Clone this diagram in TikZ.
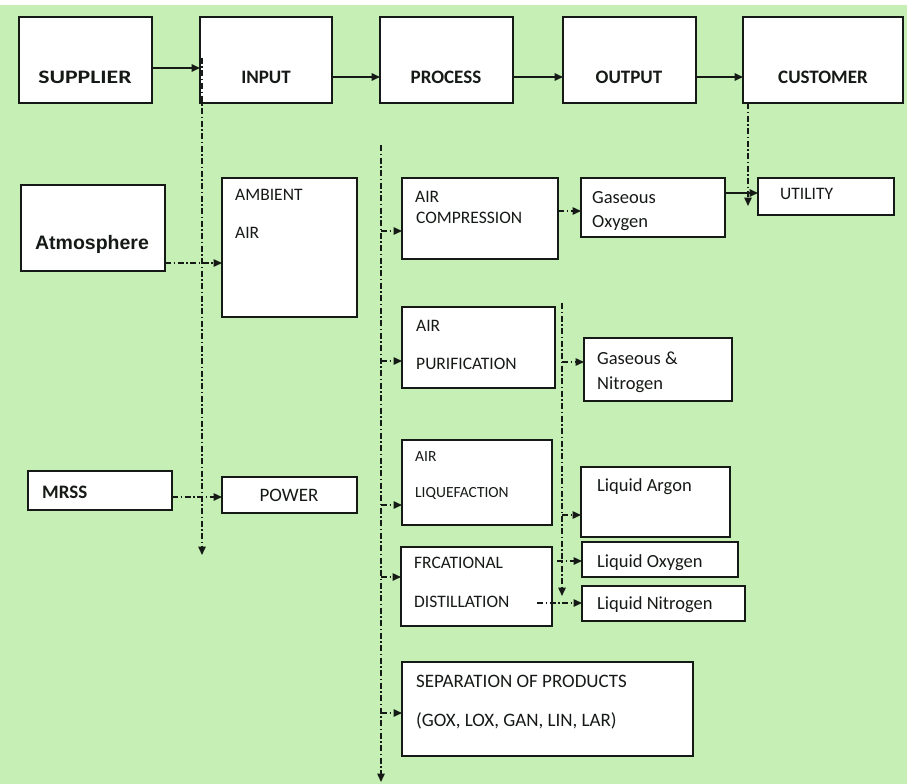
\documentclass[tikz,border=0pt]{standalone}
\usepackage{fontspec}
\usepackage{graphicx}
\setmainfont{Carlito}
\newfontfamily\arialf{Liberation Sans}
\usetikzlibrary{arrows.meta}
\definecolor{bg}{RGB}{198,239,181}
\definecolor{ink}{RGB}{22,26,22}
\begin{document}
\begin{tikzpicture}[x=1pt,y=-1pt,
  box/.style={draw=ink, fill=white, line width=1.7pt, rectangle, inner sep=0pt, outer sep=0pt, anchor=north west},
  lbl/.style={inner sep=0pt, text=ink, anchor=base west},
  toplbl/.style={inner sep=0pt, text=ink, anchor=base, font=\fontsize{19}{19}\selectfont\bfseries},
  fs17/.style={font=\fontsize{17.5}{18}\selectfont},
  fs15/.style={font=\fontsize{15.5}{16}\selectfont},
  fs18/.style={font=\fontsize{18.5}{19}\selectfont},
  fs19/.style={font=\fontsize{19}{19}\selectfont},
  sol/.style={draw=ink, line width=1.6pt, -{Triangle[length=8.5pt,width=7.5pt]}},
  dd/.style={draw=ink, line width=1.5pt, dash pattern=on 6pt off 2.5pt on 1.5pt off 2.5pt, -{Triangle[length=8.5pt,width=7.5pt]}}
]
\useasboundingbox (0,0) rectangle (913,784);
\fill[white] (0,0) rectangle (913,784);
\fill[bg] (0,5) rectangle (907,784);

% top row boxes
\node[box, minimum width=133pt, minimum height=86pt] (sup) at (19,17) {};
\node[box, minimum width=132pt, minimum height=86pt] (inp) at (200,17) {};
\node[box, minimum width=133pt, minimum height=86pt] (pro) at (380,17) {};
\node[box, minimum width=133pt, minimum height=86pt] (out) at (563,17) {};
\node[box, minimum width=160pt, minimum height=86pt] (cus) at (743,17) {};
\node[toplbl] (tsup) at (85,83) {\scalebox{1.25}[1]{SUPPLIER}};
\node[toplbl] (tinp) at (266,83) {INPUT};
\node[toplbl] (tpro) at (446,83) {PROCESS};
\node[toplbl] (tout) at (629,83) {OUTPUT};
\node[toplbl] (tcus) at (823,83) {CUSTOMER};

% other boxes
\node[box, minimum width=144pt, minimum height=86pt] (atm) at (21,185) {};
\node[box, minimum width=135pt, minimum height=139pt] (amb) at (222,178) {};
\node[box, minimum width=156pt, minimum height=81pt] (acomp) at (402,178) {};
\node[box, minimum width=144pt, minimum height=59pt] (goxy) at (581,178) {};
\node[box, minimum width=136pt, minimum height=37pt] (util) at (758,178) {};
\node[box, minimum width=153pt, minimum height=81pt] (apur) at (402,307) {};
\node[box, minimum width=148pt, minimum height=63pt] (gnit) at (584,338) {};
\node[box, minimum width=144pt, minimum height=39pt] (mrss) at (28,471) {};
\node[box, minimum width=135pt, minimum height=36pt] (pow) at (222,477) {};
\node[box, minimum width=150pt, minimum height=85pt] (aliq) at (402,440) {};
\node[box, minimum width=149pt, minimum height=70pt] (lar) at (581,467) {};
\node[box, minimum width=151pt, minimum height=79pt] (frac) at (401,547) {};
\node[box, minimum width=156pt, minimum height=35pt] (lox) at (582,542) {};
\node[box, minimum width=163pt, minimum height=35pt] (lin) at (582,586) {};
\node[box, minimum width=291pt, minimum height=94pt] (sep) at (402,662) {};

% texts
\node[inner sep=0pt, text=ink, anchor=base, font=\arialf\bfseries\fontsize{19.5}{20}\selectfont] (tatm) at (92,249) {Atmosphere};
\node[lbl, fs17] (tamb1) at (235,200) {AMBIENT};
\node[lbl, fs17] (tamb2) at (235,238) {AIR};
\node[lbl, fs17] (tac1) at (415,202) {AIR};
\node[lbl, fs17] (tac2) at (416,223) {COMPRESSION};
\node[lbl, fs18] (tgo1) at (592,203) {Gaseous};
\node[lbl, fs18] (tgo2) at (592,227) {Oxygen};
\node[lbl, fs17] (tut) at (780,199) {UTILITY};
\node[lbl, fs17] (tap1) at (416,331) {AIR};
\node[lbl, fs17] (tap2) at (416,369) {PURIFICATION};
\node[lbl, fs18] (tgn1) at (597,364) {Gaseous \&};
\node[lbl, fs18] (tgn2) at (597,389) {Nitrogen};
\node[lbl, font=\fontsize{19}{19}\selectfont\bfseries] (tmrss) at (42,498) {MRSS};
\node[inner sep=0pt, text=ink, anchor=base, fs19] (tpow) at (289,501) {POWER};
\node[lbl, fs15] (tal1) at (415,461) {AIR};
\node[lbl, fs15] (tal2) at (415,497) {LIQUEFACTION};
\node[lbl, fs18] (tlar) at (597,491) {Liquid Argon};
\node[lbl, fs17] (tfr1) at (414,568) {FRCATIONAL};
\node[lbl, fs17] (tfr2) at (414,607) {DISTILLATION};
\node[lbl, fs18] (tlox) at (597,567) {Liquid Oxygen};
\node[lbl, fs18] (tlin) at (597,609) {Liquid Nitrogen};
\node[lbl, fs19] (tsep1) at (416,687) {SEPARATION OF PRODUCTS};
\node[lbl, fs19] (tsep2) at (416,726) {(GOX, LOX, GAN, LIN, LAR)};

% coordinates
\coordinate (c1) at (152,68);
\coordinate (c2) at (332,77);
\coordinate (v1t) at (202,58);
\coordinate (v1b) at (202,555);
\coordinate (v2t) at (381,145);
\coordinate (v2b) at (381,782);
\coordinate (v3t) at (748,103);
\coordinate (v3b) at (748,206);
\coordinate (v4t) at (562,303);
\coordinate (v4b) at (562,596);
\coordinate (h1) at (165,263);
\coordinate (h2) at (172,497);
\coordinate (p1) at (381,231);
\coordinate (p2) at (381,361);
\coordinate (p3) at (381,505);
\coordinate (p4) at (381,577);
\coordinate (p5) at (381,713);
\coordinate (q0) at (558,211);
\coordinate (q1) at (562,362);
\coordinate (q2) at (562,515);
\coordinate (q3) at (557,561);
\coordinate (q4) at (537,603);
\coordinate (u1) at (725,193);

% solid connectors
\draw[sol] (sup.east |- c1) -- (inp.west |- c1);
\draw[sol] (inp.east |- c2) -- (pro.west |- c2);
\draw[sol] (pro.east |- c2) -- (out.west |- c2);
\draw[sol] (out.east |- c2) -- (cus.west |- c2);
\draw[sol] (goxy.east |- u1) -- (util.west |- u1);

% dashed verticals
\draw[dd] (v1t) -- (v1b);
\draw[dd] (v2t) -- (v2b);
\draw[dd] (cus.south -| v3t) -- (v3b);
\draw[dd] (v4t) -- (v4b);

% dashed horizontals
\draw[dd] (atm.east |- h1) -- (amb.west |- h1);
\draw[dd] (mrss.east |- h2) -- (pow.west |- h2);
\draw[dd] (p1) -- (acomp.west |- p1);
\draw[dd] (p2) -- (apur.west |- p2);
\draw[dd] (p3) -- (aliq.west |- p3);
\draw[dd] (p4) -- (frac.west |- p4);
\draw[dd] (p5) -- (sep.west |- p5);
\draw[dd] (acomp.east |- q0) -- (goxy.west |- q0);
\draw[dd] (q1) -- (gnit.west |- q1);
\draw[dd] (q2) -- (lar.west |- q2);
\draw[dd] (q3) -- (lox.west |- q3);
\draw[dd] (q4) -- (lin.west |- q4);
\end{tikzpicture}
\end{document}
